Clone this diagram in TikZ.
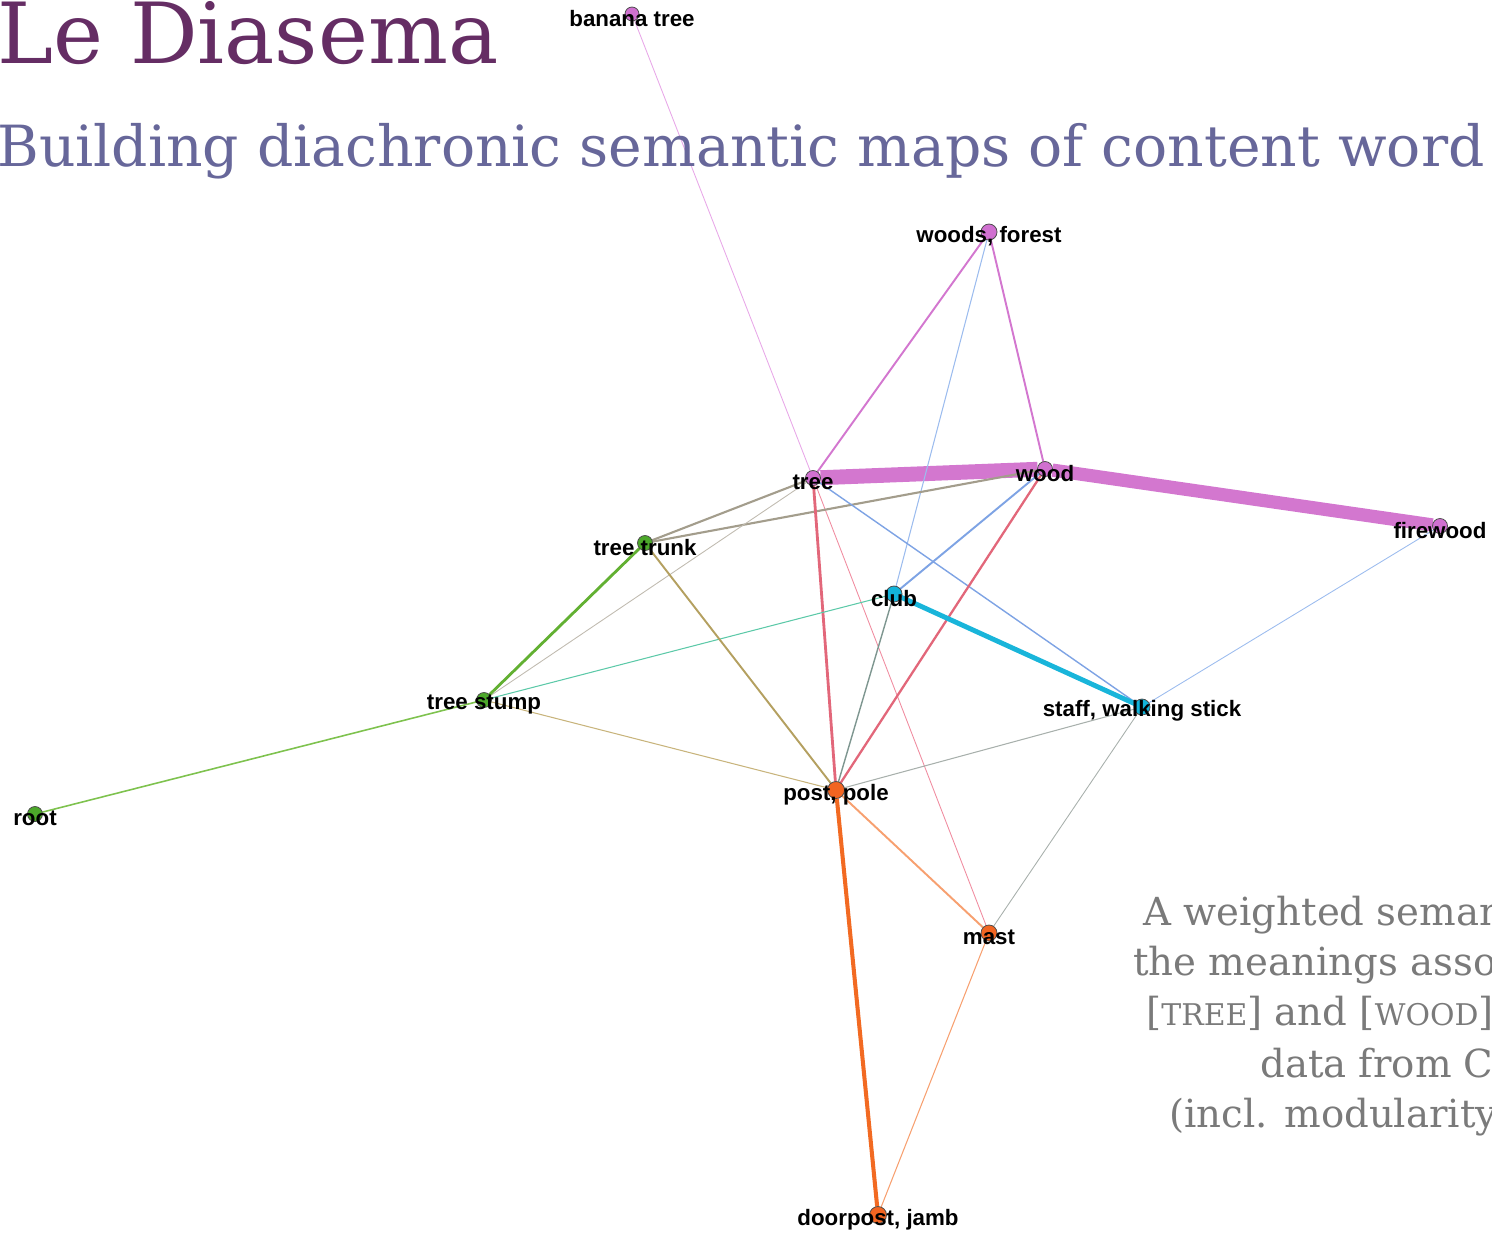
\documentclass[tikz,border=0pt]{standalone}
\usepackage{fontspec}
\setsansfont{Liberation Sans}
\newfontfamily\slabfont{DejaVu Serif}
\usepackage{tikz-network}

\definecolor{titleplum}{HTML}{652D64}
\definecolor{subslate}{HTML}{67679A}
\definecolor{capgray}{HTML}{7A7A7A}
\definecolor{nviolet}{HTML}{D070D0}
\definecolor{ngreen}{HTML}{4CA82A}
\definecolor{ncyan}{HTML}{12B4DA}
\definecolor{norange}{HTML}{F26522}
\definecolor{eviolet}{HTML}{D377CF}
\definecolor{elilac}{HTML}{E8A8E8}
\definecolor{erose}{HTML}{F08CA0}
\definecolor{ered}{HTML}{E2677A}
\definecolor{eblue}{HTML}{7EA3E4}
\definecolor{esky}{HTML}{9CBCEE}
\definecolor{ecyan}{HTML}{19B5DA}
\definecolor{eteal}{HTML}{5CC9A8}
\definecolor{eslate}{HTML}{7E9690}
\definecolor{egray}{HTML}{A8B0AC}
\definecolor{etaupe}{HTML}{A39D8C}
\definecolor{etaupelt}{HTML}{C0BBB0}
\definecolor{egreen}{HTML}{62B032}
\definecolor{elime}{HTML}{7EC24E}
\definecolor{eolive}{HTML}{B4A060}
\definecolor{eolivelt}{HTML}{C8B47C}
\definecolor{eorange}{HTML}{F26A22}
\definecolor{eorangelt}{HTML}{F7A070}

\newcommand{\lbl}{\sffamily\bfseries\fontsize{12.7}{14}\selectfont}
\newcommand{\capfont}{\slabfont\fontsize{22}{28}\selectfont}
\newcommand{\tsc}[1]{{\fontsize{17}{20}\selectfont #1}}
\tikzset{wordvertex/.style={draw=black!70, line width=0.45pt},
  every label/.append style={yshift=-2.4pt},
  slide/.style={anchor=base west, inner sep=0pt}}

\begin{document}
\begin{tikzpicture}
\useasboundingbox (0,0) rectangle (29.84,-24.64);
\node[slide, text=titleplum, font=\slabfont\fontsize{48}{56}\selectfont] (title) at (-0.06,-1.26) {Le Diasema};
\node[slide, text=subslate, font=\slabfont\fontsize{32.3}{38}\selectfont] (subtitle) at (-0.06,-3.32) {Building diachronic semantic maps of content word};
\node[slide, text=capgray, font=\capfont] (cap1) at (22.86,-18.50) {A weighted seman};
\node[slide, text=capgray, font=\capfont] (cap2) at (22.66,-19.50) {the meanings asso};
\node[slide, text=capgray, font=\capfont] (cap3) at (22.92,-20.50) {[\tsc{TREE}] and [\tsc{WOOD}]};
\node[slide, text=capgray, font=\capfont] (cap4) at (25.20,-21.54) {data from C\tsc{L}};
\node[slide, text=capgray, font=\capfont] (cap5) at (23.38,-22.54) {(incl. modularity};

\Vertex[label=banana tree, x=12.64, y=-0.28, size=0.28, color=nviolet, position=center, fontsize=\lbl, style=wordvertex]{banana}
\Vertex[label={woods, forest}, x=19.78, y=-4.64, size=0.32, color=nviolet, position=center, fontsize=\lbl, style=wordvertex]{woods}
\Vertex[label=tree, x=16.26, y=-9.56, size=0.30, color=nviolet, position=center, fontsize=\lbl, style=wordvertex]{tree}
\Vertex[label=wood, x=20.90, y=-9.38, size=0.30, color=nviolet, position=center, fontsize=\lbl, style=wordvertex]{wood}
\Vertex[label=firewood, x=28.80, y=-10.52, size=0.30, color=nviolet, position=center, fontsize=\lbl, style=wordvertex]{firewood}
\Vertex[label=tree trunk, x=12.90, y=-10.86, size=0.30, color=ngreen, position=center, fontsize=\lbl, style=wordvertex]{trunk}
\Vertex[label=tree stump, x=9.68, y=-14.00, size=0.30, color=ngreen, position=center, fontsize=\lbl, style=wordvertex]{stump}
\Vertex[label=root, x=0.70, y=-16.28, size=0.30, color=ngreen, position=center, fontsize=\lbl, style=wordvertex]{root}
\Vertex[label=club, x=17.88, y=-11.88, size=0.32, color=ncyan, position=center, fontsize=\lbl, style=wordvertex]{club}
\Vertex[label={staff, walking stick}, x=22.84, y=-14.14, size=0.32, color=ncyan, position=center, fontsize=\lbl, style=wordvertex]{staff}
\Vertex[label={post, pole}, x=16.72, y=-15.80, size=0.34, color=norange, position=center, fontsize=\lbl, style=wordvertex]{post}
\Vertex[label=mast, x=19.78, y=-18.66, size=0.32, color=norange, position=center, fontsize=\lbl, style=wordvertex]{mast}
\Vertex[label={doorpost, jamb}, x=17.56, y=-24.30, size=0.34, color=norange, position=center, fontsize=\lbl, style=wordvertex]{doorpost}

\Edge[lw=0.5, color=elilac](banana)(tree)
\Edge[lw=0.5, color=erose](tree)(mast)
\Edge[lw=8.5, color=eviolet](tree)(wood)
\Edge[lw=7.5, color=eviolet](wood)(firewood)
\Edge[lw=1.1, color=eviolet](woods)(tree)
\Edge[lw=1.1, color=eviolet](woods)(wood)
\Edge[lw=0.6, color=esky](woods)(club)
\Edge[lw=1.2, color=etaupe](tree)(trunk)
\Edge[lw=1.2, color=etaupe](wood)(trunk)
\Edge[lw=0.5, color=etaupelt](tree)(stump)
\Edge[lw=1.6, color=ered](tree)(post)
\Edge[lw=0.8, color=eblue](tree)(staff)
\Edge[lw=1.1, color=eblue](wood)(club)
\Edge[lw=1.3, color=ered](wood)(post)
\Edge[lw=2.8, color=ecyan](club)(staff)
\Edge[lw=0.6, color=eteal](club)(stump)
\Edge[lw=0.8, color=eslate](club)(post)
\Edge[lw=1.6, color=egreen](trunk)(stump)
\Edge[lw=1.1, color=eolive](trunk)(post)
\Edge[lw=0.9, color=elime](stump)(root)
\Edge[lw=0.6, color=eolivelt](stump)(post)
\Edge[lw=0.6, color=egray](staff)(post)
\Edge[lw=0.5, color=egray](staff)(mast)
\Edge[lw=0.5, color=esky](staff)(firewood)
\Edge[lw=1.1, color=eorangelt](post)(mast)
\Edge[lw=2.3, color=eorange](post)(doorpost)
\Edge[lw=0.6, color=eorangelt](mast)(doorpost)
\end{tikzpicture}
\end{document}
